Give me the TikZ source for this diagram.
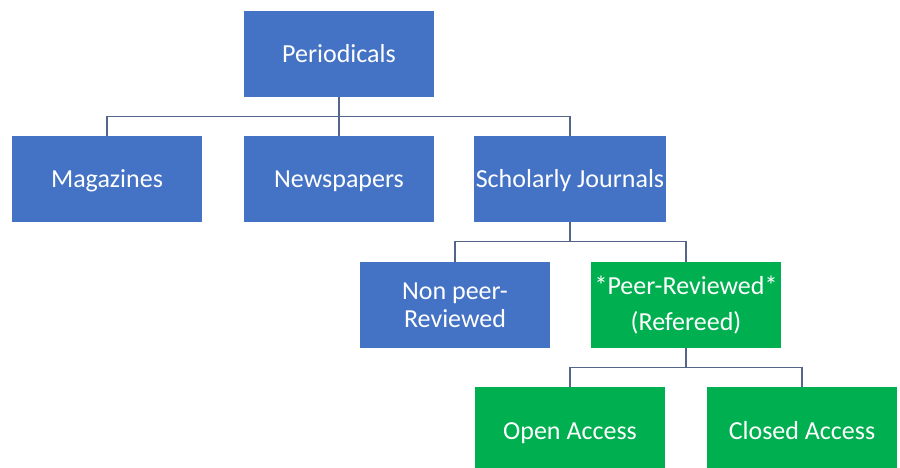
\documentclass[tikz,border=0pt]{standalone}
\usepackage{fontspec}
\setmainfont{Carlito}
\usepackage{xcolor}
\usetikzlibrary{
	positioning,    % relative placement
	calc
}
\definecolor{boxblue}{HTML}{4472C4}
\definecolor{boxgreen}{HTML}{00B050}
\definecolor{linkgray}{HTML}{53668A}

\begin{document}
\begin{tikzpicture}[
			x=1pt, y=-1pt,
			box/.style={fill=boxblue, text=white, minimum width=190pt,
				minimum height=86pt, inner sep=2pt, align=center,
				font=\fontsize{26}{31}\selectfont},
			% single line labels: same baseline in every box
			oneline/.style={text height=22pt, text depth=4pt},
			% green boxes for the refereed branch
			greenbox/.style={box, fill=boxgreen},
			link/.style={draw=linkgray, line width=1.3pt}
			]
			
			\useasboundingbox (0,0) rectangle (900,468);
			
			% --- Level 0 ---
			\node[box, oneline] (per) at (339,54) {Periodicals};
			
			% --- Level 1 ---
			\node[box, oneline] (mag) at (107,179) {Magazines};
			\node[box, oneline] (news) at (339,179) {Newspapers};
			\node[box, oneline] (schol) at (570,179) {Scholarly Journals};
			
			% --- Level 2 ---
			\node[box] (nonpeer) at (455,305) {Non peer-\\[-3pt]Reviewed};
			\node[greenbox] (peer) at (686,305) {*Peer-Reviewed*\\[5pt](Refereed)};
			
			% --- Level 3 ---
			\node[greenbox, oneline] (open) at (570,430) {Open Access};
			\node[greenbox, oneline] (closed) at (802,430) {Closed Access};
			
			% --- Connettori ---
			\draw[link] (per.south) -- ++(0,19.5) -| (mag.north);
			\draw[link] (per.south) -- (news.north);
			\draw[link] (per.south) -- ++(0,19.5) -| (schol.north);
			
			\draw[link] (schol.south) -- ++(0,19.5) -| (nonpeer.north);
			\draw[link] (schol.south) -- ++(0,19.5) -| (peer.north);
			
			\draw[link] (peer.south) -- ++(0,19.5) -| (open.north);
			\draw[link] (peer.south) -- ++(0,19.5) -| (closed.north);
			
		\end{tikzpicture}
\end{document}
